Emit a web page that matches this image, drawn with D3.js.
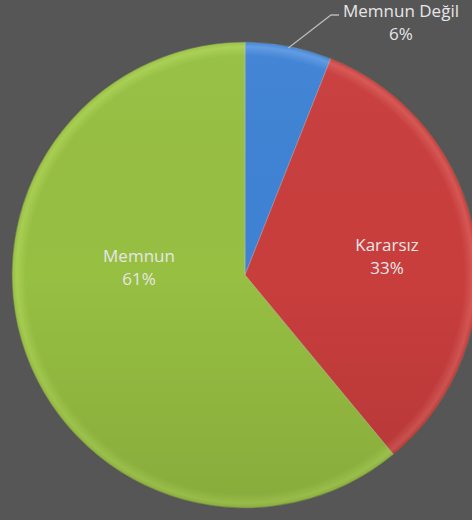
<!DOCTYPE html>
<html>
<head>
<meta charset="utf-8">
<script src="https://cdn.jsdelivr.net/npm/d3@7"></script>
<style>
  body { margin: 0; background: #565656; }
  svg { display: block; }
</style>
</head>
<body>
<div id="chart"></div>
<script>
// --- Data ---
const labels = ["Memnun Değil", "Kararsız", "Memnun"];
const values = [6, 33, 61];
const colors = ["#3f82d4", "#c83e3d", "#97bf42"];
const lightColors = ["#5e99e2", "#d65754", "#a8cf52"];

const width = 472, height = 520;
const cx = 245, cy = 275, radius = 233;

// label anchor points (layout), Excel style placement
const labelPos = [[401, 17], [387, 251], [139, 262]];

const svg = d3.create("svg")
    .attr("width", width)
    .attr("height", height);

svg.append("rect")
    .attr("width", width)
    .attr("height", height)
    .attr("fill", "#565656");

const defs = svg.append("defs");
labels.forEach((l, i) => {
    const grad = defs.append("radialGradient")
        .attr("id", "grad" + i)
        .attr("gradientUnits", "userSpaceOnUse")
        .attr("cx", 0).attr("cy", 0).attr("r", radius);
    grad.append("stop").attr("offset", "0%").attr("stop-color", colors[i]);
    grad.append("stop").attr("offset", "94%").attr("stop-color", colors[i]);
    grad.append("stop").attr("offset", "98%").attr("stop-color", lightColors[i]);
    grad.append("stop").attr("offset", "100%").attr("stop-color", colors[i]);
});

// subtle top-to-bottom shading
const shade = defs.append("linearGradient")
    .attr("id", "shade")
    .attr("x1", 0).attr("y1", 0).attr("x2", 0).attr("y2", 1);
shade.append("stop").attr("offset", "0%").attr("stop-color", "#fff").attr("stop-opacity", 0.03);
shade.append("stop").attr("offset", "50%").attr("stop-color", "#000").attr("stop-opacity", 0);
shade.append("stop").attr("offset", "100%").attr("stop-color", "#000").attr("stop-opacity", 0.1);

const pie = d3.pie().sort(null).value(d => d.value);
const data = labels.map((l, i) => ({ label: l, value: values[i], i }));
const arcs = pie(data);

const arc = d3.arc().innerRadius(0).outerRadius(radius);

const g = svg.append("g")
    .attr("transform", `translate(${cx},${cy})`);

g.selectAll("path.slice")
    .data(arcs)
    .enter().append("path")
    .attr("class", "slice")
    .attr("d", arc)
    .attr("fill", d => `url(#grad${d.data.i})`)
    .attr("stroke", "#d8d8d8")
    .attr("stroke-opacity", 0.3)
    .attr("stroke-width", 1);

g.append("circle")
    .attr("r", radius)
    .attr("fill", "url(#shade)");

// outer dark rim
g.append("circle")
    .attr("r", radius)
    .attr("fill", "none")
    .attr("stroke", "#2f3a1c")
    .attr("stroke-opacity", 0.35)
    .attr("stroke-width", 1.2);

// Labels
const textColor = "#e6e6e6";
const font = "'Open Sans', 'Noto Sans', sans-serif";

// leader line for small slice
const small = arcs[0];
const mid = (small.startAngle + small.endAngle) / 2;
const px = Math.sin(mid) * (radius - 2), py = -Math.cos(mid) * (radius - 2);
g.append("polyline")
    .attr("points", [[px, py], [331 - cx, 15 - cy], [339 - cx, 15 - cy]].map(p => p.join(",")).join(" "))
    .attr("fill", "none")
    .attr("stroke", "#b8b8b8")
    .attr("stroke-width", 1.3);

arcs.forEach((d, i) => {
    const [x, y] = labelPos[i];
    const t = svg.append("text")
        .attr("text-anchor", "middle")
        .attr("font-family", font)
        .attr("font-size", "17px")
        .attr("fill", textColor);
    t.append("tspan").attr("x", x).attr("y", y).text(d.data.label);
    t.append("tspan").attr("x", x).attr("y", y + 23).text(d.data.value + "%");
});

d3.select("#chart").node().appendChild(svg.node());
</script>
</body>
</html>
